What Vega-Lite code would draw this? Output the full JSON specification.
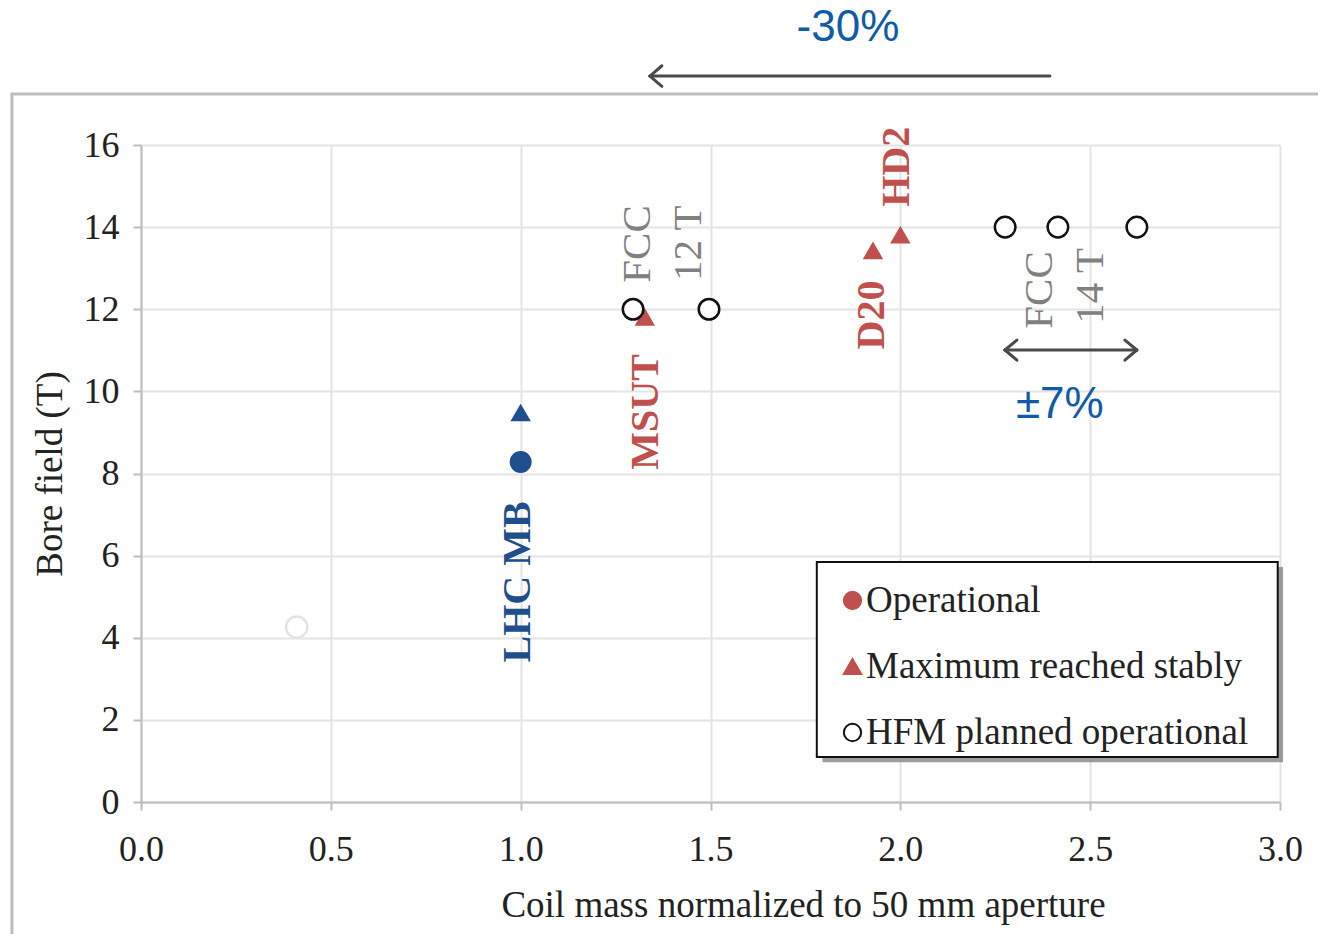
{
  "$schema": "https://vega.github.io/schema/vega-lite/v6.json",
  "autosize": "none",
  "width": 1139,
  "height": 657,
  "padding": {"left": 141, "top": 145, "right": 38, "bottom": 132},
  "background": "white",
  "config": {
    "view": {"stroke": null},
    "axis": {
      "domainColor": "#bdbdbd", "domainWidth": 2,
      "gridColor": "#e4e4e4", "gridWidth": 2,
      "tickColor": "#bdbdbd", "tickWidth": 2, "tickSize": 8,
      "labelFont": "Liberation Serif", "labelFontSize": 36, "labelColor": "#222222",
      "titleFont": "Liberation Serif", "titleFontSize": 37, "titleFontWeight": "normal", "titleColor": "#222222"
    }
  },
  "datasets": {
    "points": [
      {"x": 0.41, "y": 4.26, "shape": "circle", "fill": "#ffffff", "stroke": "#e3e3e3", "size": 450},
      {"x": 1.0, "y": 8.28, "shape": "circle", "fill": "#1f4e8c", "stroke": "#1f4e8c", "size": 380},
      {"x": 1.0, "y": 9.47, "shape": "triangle-up", "fill": "#1f4e8c", "stroke": "#1f4e8c", "size": 260},
      {"x": 1.327, "y": 11.8, "shape": "triangle-up", "fill": "#c0504d", "stroke": "#c0504d", "size": 260},
      {"x": 1.928, "y": 13.42, "shape": "triangle-up", "fill": "#c0504d", "stroke": "#c0504d", "size": 260},
      {"x": 2.0, "y": 13.8, "shape": "triangle-up", "fill": "#c0504d", "stroke": "#c0504d", "size": 260},
      {"x": 1.296, "y": 12.0, "shape": "circle", "fill": "#ffffff", "stroke": "#111111", "size": 420},
      {"x": 1.496, "y": 12.0, "shape": "circle", "fill": "#ffffff", "stroke": "#111111", "size": 420},
      {"x": 2.276, "y": 14.0, "shape": "circle", "fill": "#ffffff", "stroke": "#111111", "size": 420},
      {"x": 2.415, "y": 14.0, "shape": "circle", "fill": "#ffffff", "stroke": "#111111", "size": 420},
      {"x": 2.623, "y": 14.0, "shape": "circle", "fill": "#ffffff", "stroke": "#111111", "size": 420}
    ],
    "legendItems": [
      {"status": "Operational"},
      {"status": "Maximum reached stably"},
      {"status": "HFM planned operational"}
    ],
    "segments": [
      {"x": -0.34, "y": 17.242, "x2": 3.2, "y2": 17.242, "c": "#bdbdbd", "w": 3},
      {"x": -0.34, "y": 17.242, "x2": -0.34, "y2": -3.4, "c": "#bdbdbd", "w": 3},
      {"x": 2.394, "y": 17.68, "x2": 1.3405, "y2": 17.68, "c": "#4a4a4a", "w": 3},
      {"x": 1.3405, "y": 17.68, "x2": 1.372, "y2": 17.93, "c": "#4a4a4a", "w": 3},
      {"x": 1.3405, "y": 17.68, "x2": 1.372, "y2": 17.43, "c": "#4a4a4a", "w": 3},
      {"x": 2.2755, "y": 11.008, "x2": 2.623, "y2": 11.008, "c": "#4a4a4a", "w": 3},
      {"x": 2.2755, "y": 11.008, "x2": 2.307, "y2": 11.25, "c": "#4a4a4a", "w": 3},
      {"x": 2.2755, "y": 11.008, "x2": 2.307, "y2": 10.76, "c": "#4a4a4a", "w": 3},
      {"x": 2.623, "y": 11.008, "x2": 2.5915, "y2": 11.25, "c": "#4a4a4a", "w": 3},
      {"x": 2.623, "y": 11.008, "x2": 2.5915, "y2": 10.76, "c": "#4a4a4a", "w": 3}
    ],
    "boldLabels": [
      {"x": 0.994, "y": 5.36, "label": "LHC MB", "c": "#1f4e8c"},
      {"x": 1.33, "y": 9.5, "label": "MSUT", "c": "#c0504d"},
      {"x": 1.925, "y": 11.86, "label": "D20", "c": "#c0504d"},
      {"x": 1.991, "y": 15.47, "label": "HD2", "c": "#c0504d"}
    ],
    "greyLabels": [
      {"x": 1.309, "y": 13.59, "label": "FCC"},
      {"x": 1.443, "y": 13.61, "label": "12 T"},
      {"x": 2.368, "y": 12.47, "label": "FCC"},
      {"x": 2.502, "y": 12.57, "label": "14 T"}
    ],
    "pctLabels": [
      {"x": 2.42, "y": 9.67, "label": "±7%"},
      {"x": 1.862, "y": 18.85, "label": "-30%"}
    ],
    "legendShadow": [
      {"x": 1.795, "y": 5.72, "x2": 3.008, "y2": 0.97}
    ],
    "legendBox": [
      {"x": 1.780, "y": 5.845, "x2": 2.994, "y2": 1.096}
    ]
  },
  "layer": [
    {
      "data": {"name": "legendShadow"},
      "mark": {"type": "rect", "fill": "#8c8c8c", "opacity": 0.85},
      "encoding": {
        "x": {"field": "x", "type": "quantitative", "scale": {"domain": [0, 3], "nice": false, "zero": false},
              "axis": {"values": [0, 0.5, 1, 1.5, 2, 2.5, 3], "format": ".1f", "title": "Coil mass normalized to 50 mm aperture", "labelPadding": 22, "titlePadding": 20, "titleX": 662, "labelFlush": false}},
        "x2": {"field": "x2"},
        "y": {"field": "y", "type": "quantitative", "scale": {"domain": [0, 16], "nice": false, "zero": false},
              "axis": {"values": [0, 2, 4, 6, 8, 10, 12, 14, 16], "format": "d", "title": "Bore field (T)", "labelPadding": 14, "titlePadding": 14, "labelFlush": false}},
        "y2": {"field": "y2"}
      }
    },
    {
      "data": {"name": "legendBox"},
      "mark": {"type": "rect", "fill": "#ffffff", "stroke": "#111111", "strokeWidth": 2},
      "encoding": {
        "x": {"field": "x", "type": "quantitative"},
        "x2": {"field": "x2"},
        "y": {"field": "y", "type": "quantitative"},
        "y2": {"field": "y2"}
      }
    },
    {
      "data": {"name": "segments"},
      "mark": {"type": "rule", "strokeCap": "round", "clip": false},
      "encoding": {
        "x": {"field": "x", "type": "quantitative"},
        "y": {"field": "y", "type": "quantitative"},
        "x2": {"field": "x2"},
        "y2": {"field": "y2"},
        "color": {"field": "c", "type": "nominal", "scale": null},
        "strokeWidth": {"field": "w", "type": "quantitative", "scale": null}
      }
    },
    {
      "data": {"name": "points"},
      "mark": {"type": "point", "strokeWidth": 2.5, "opacity": 1},
      "encoding": {
        "x": {"field": "x", "type": "quantitative"},
        "y": {"field": "y", "type": "quantitative"},
        "fill": {"field": "fill", "type": "nominal", "scale": null},
        "stroke": {"field": "stroke", "type": "nominal", "scale": null},
        "size": {"field": "size", "type": "quantitative", "scale": null},
        "shape": {"field": "shape", "type": "nominal", "scale": null}
      }
    },
    {
      "data": {"name": "legendItems"},
      "mark": {"type": "point", "strokeWidth": 2, "opacity": 1},
      "encoding": {
        "x": {"field": "x", "type": "quantitative"},
        "y": {"field": "y", "type": "quantitative"},
        "shape": {
          "field": "status", "type": "nominal",
          "scale": {"domain": ["Operational", "Maximum reached stably", "HFM planned operational"], "range": ["circle", "triangle-up", "circle"]},
          "legend": {
            "title": null, "orient": "none", "legendX": 693, "legendY": 437,
            "padding": 0, "rowPadding": 28, "labelOffset": -5,
            "labelFont": "Liberation Serif", "labelFontSize": 37, "labelColor": "#222222", "labelLimit": 600,
            "symbolSize": 300, "symbolStrokeWidth": 2
          }
        },
        "fill": {
          "field": "status", "type": "nominal",
          "scale": {"domain": ["Operational", "Maximum reached stably", "HFM planned operational"], "range": ["#c0504d", "#c0504d", "#ffffff"]}
        },
        "stroke": {
          "field": "status", "type": "nominal",
          "scale": {"domain": ["Operational", "Maximum reached stably", "HFM planned operational"], "range": ["#c0504d", "#c0504d", "#111111"]}
        }
      }
    },
    {
      "data": {"name": "boldLabels"},
      "mark": {"type": "text", "angle": 270, "align": "center", "baseline": "middle", "font": "Liberation Serif", "fontWeight": "bold", "fontSize": 40},
      "encoding": {
        "x": {"field": "x", "type": "quantitative"},
        "y": {"field": "y", "type": "quantitative"},
        "text": {"field": "label"},
        "color": {"field": "c", "type": "nominal", "scale": null}
      }
    },
    {
      "data": {"name": "greyLabels"},
      "mark": {"type": "text", "angle": 270, "align": "center", "baseline": "middle", "font": "Liberation Serif", "fontSize": 41, "color": "#808080"},
      "encoding": {
        "x": {"field": "x", "type": "quantitative"},
        "y": {"field": "y", "type": "quantitative"},
        "text": {"field": "label"}
      }
    },
    {
      "data": {"name": "pctLabels"},
      "mark": {"type": "text", "align": "center", "baseline": "middle", "font": "Liberation Sans", "fontSize": 44, "color": "#0f5ba8", "clip": false},
      "encoding": {
        "x": {"field": "x", "type": "quantitative"},
        "y": {"field": "y", "type": "quantitative"},
        "text": {"field": "label"}
      }
    }
  ]
}
